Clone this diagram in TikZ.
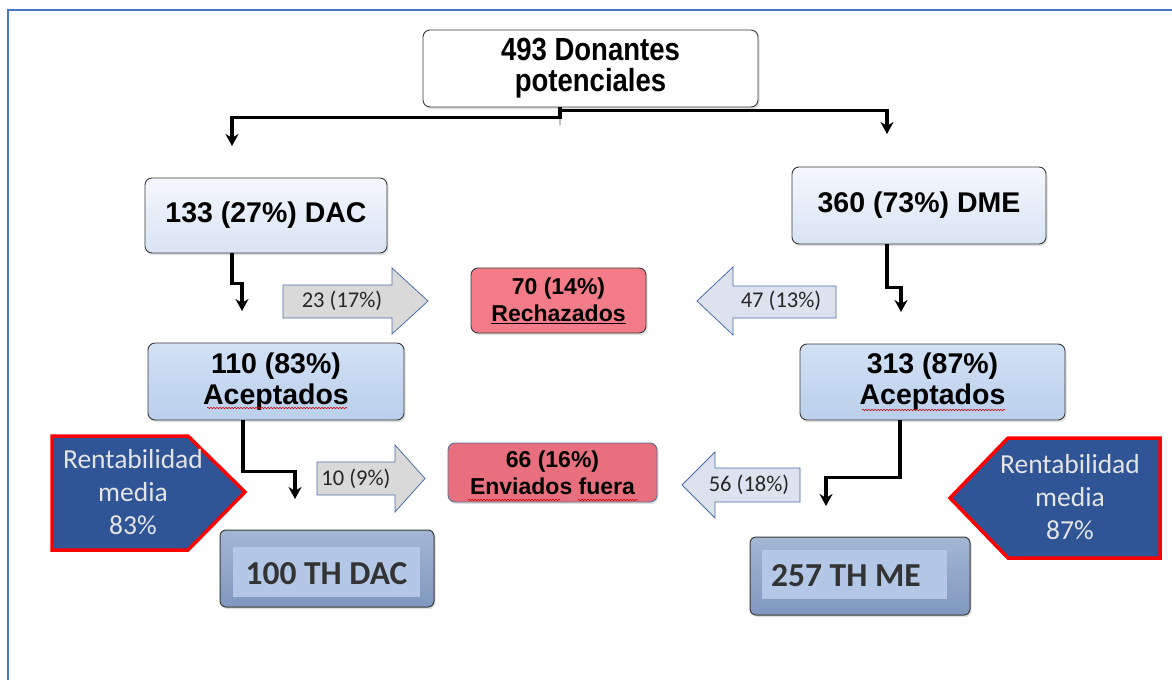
\documentclass[tikz,border=0pt]{standalone}
\usepackage{fontspec}
\setmainfont{Liberation Sans}
\newfontfamily\narrowfont[FakeStretch=0.86]{Liberation Sans}
\newfontfamily\calfont{Carlito}
\usetikzlibrary{arrows.meta,shadows,decorations.pathmorphing}

\definecolor{frameblue}{HTML}{4A78C8}
\definecolor{boxedge}{HTML}{3A3A3A}
\definecolor{paleTop}{HTML}{F5F8FD}
\definecolor{paleBot}{HTML}{D8E3F4}
\definecolor{accTop}{HTML}{D2E1F5}
\definecolor{accBot}{HTML}{BACFEB}
\definecolor{rechfill}{HTML}{F47C89}
\definecolor{envfill}{HTML}{E8707E}
\definecolor{envedge}{HTML}{5A6F94}
\definecolor{arrgray}{HTML}{D9D9D9}
\definecolor{arrblue}{HTML}{DCE3EE}
\definecolor{arredge}{HTML}{4A6EA8}
\definecolor{pentfill}{HTML}{2F5597}
\definecolor{penttext}{HTML}{E4E4E4}
\definecolor{thTop}{HTML}{A3B6D4}
\definecolor{thBot}{HTML}{8098BE}
\definecolor{thinner}{HTML}{B4C7E7}
\definecolor{thtextcol}{HTML}{333333}

\begin{document}
\begin{tikzpicture}[x=1pt,y=-1pt,
  box/.style={draw=boxedge, line width=0.9pt, rounded corners=7pt, inner sep=0pt,
    align=center,
    drop shadow={shadow xshift=1.5pt, shadow yshift=-2pt, opacity=0.25}},
  palebox/.style={box, top color=paleTop, bottom color=paleBot},
  accbox/.style={box, top color=accTop, bottom color=accBot},
  bigtxt/.style={font=\bfseries\fontsize{28.5}{31}\selectfont},
  midtxt/.style={font=\bfseries\fontsize{23}{27}\selectfont},
  conn/.style={draw=black, line width=3.4pt, line join=miter,
    -{Stealth[length=12pt,width=13pt]}},
  ghost/.style={draw=black, line width=2pt, opacity=0.25},
  blockarrow/.style={draw=arredge, line width=0.8pt, line join=miter},
  arrtext/.style={font=\calfont\fontsize{22.5}{24}\selectfont, text=black!85, inner sep=0pt},
  pent/.style={fill=pentfill, draw=red, line width=3.5pt, line join=miter},
  pentlabel/.style={font=\calfont\fontsize{27.5}{33}\selectfont, text=penttext,
    align=center, inner sep=0pt},
  thbox/.style={draw=boxedge, line width=1pt, rounded corners=6pt, inner sep=0pt,
    top color=thTop, bottom color=thBot,
    drop shadow={shadow xshift=1.5pt, shadow yshift=-2pt, opacity=0.25}},
  thpanel/.style={fill=thinner, draw=none, inner sep=0pt},
  thtext/.style={font=\calfont\bfseries\fontsize{33.5}{36}\selectfont, text=thtextcol,
    inner sep=0pt},
  squig/.style={draw=red!85!black, line width=0.6pt,
    decorate, decoration={snake, segment length=3pt, amplitude=0.7pt}}
]
\useasboundingbox (0,0) rectangle (1172,680);

% page frame
\draw[frameblue, line width=2pt] (8,680) -- (8,10) -- (1172,10);

% top of the tree
\node[box, fill=white, minimum width=335pt, minimum height=77pt,
  font=\narrowfont\bfseries\fontsize{32}{31}\selectfont] (top) at (590.5,68.5)
  {493 Donantes\\potenciales};

% donor groups
\node[palebox, bigtxt, minimum width=242pt, minimum height=75pt] (dac) at (266,215.5)
  {133 (27\%) DAC};
\node[palebox, bigtxt, minimum width=254pt, minimum height=77pt] (dme) at (919,205.5)
  {360 (73\%) DME};

% accepted
\node[accbox, bigtxt, minimum width=256pt, minimum height=77pt] (accL) at (276,381.5)
  {110 (83\%)\\Aceptados};
\node[accbox, bigtxt, minimum width=265pt, minimum height=76pt] (accR) at (932.5,382)
  {313 (87\%)\\Aceptados};

% rejected and sent elsewhere
\node[box, fill=rechfill, midtxt, minimum width=175pt, minimum height=65pt] (rech)
  at (558.5,300.5) {70 (14\%)\\\underline{Rechazados}};
\node[box, draw=envedge, fill=envfill, midtxt, minimum width=209pt, minimum height=59pt]
  (env) at (552.5,472.5) {66 (16\%)\\Enviados fuera};

% spelling marks under words
\draw[squig] (207,408) -- (347,408);
\draw[squig] (862,410) -- (1005,410);
\draw[squig] (468,500) -- (560,500);
\draw[squig] (578,500) -- (638,500);
\draw[squig] (1007,474) -- (1150,474);

% block arrows with counts
\draw[blockarrow, fill=arrgray] (283,285) -- (392,285) -- (392,268) -- (428,301)
  -- (392,334) -- (392,318) -- (283,318) -- cycle;
\node[arrtext] (l23) at (342,301) {23 (17\%)};
\draw[blockarrow, fill=arrblue] (836,286) -- (733,286) -- (733,267) -- (697,301)
  -- (733,335) -- (733,318) -- (836,318) -- cycle;
\node[arrtext] (l47) at (781,301) {47 (13\%)};
\draw[blockarrow, fill=arrgray] (317,462) -- (395,462) -- (395,445) -- (425,478.5)
  -- (395,512) -- (395,495) -- (317,495) -- cycle;
\node[arrtext] (l10) at (356,478.5) {10 (9\%)};
\draw[blockarrow, fill=arrblue] (800,468) -- (715,468) -- (715,452) -- (682,485)
  -- (715,518) -- (715,502) -- (800,502) -- cycle;
\node[arrtext] (l56) at (749,485) {56 (18\%)};

% average yield tags
\draw[pent] (52,436) -- (188,436) -- (245,492) -- (188,550) -- (52,550) -- cycle;
\node[pentlabel] (rentL) at (133,492) {Rentabilidad\\media\\83\%};
\draw[pent] (1160,438) -- (1008,438) -- (950,498) -- (1008,558) -- (1160,558) -- cycle;
\node[pentlabel] (rentR) at (1070,497) {Rentabilidad\\media\\87\%};

% transplant totals
\node[thbox, minimum width=214pt, minimum height=77pt] (thL) at (327,568.5) {};
\node[thpanel, minimum width=187pt, minimum height=50pt] (thLin) at (326.5,572) {};
\node[thtext] (thLtxt) at (326.5,574) {100 TH DAC};
\node[thbox, minimum width=220pt, minimum height=78pt] (thR) at (860,576) {};
\node[thpanel, minimum width=185pt, minimum height=49pt] (thRin) at (854.5,574.5) {};
\node[thtext, anchor=west] (thRtxt) at (771,576) {257 TH ME};

% connector tails showing faintly through the boxes
\draw[ghost] ([xshift=-30.5pt,yshift=-18pt]top.south) -- ([xshift=-30.5pt]top.south);
\draw[ghost] ([xshift=-34pt,yshift=-24pt]dac.south) -- ([xshift=-34pt]dac.south);
\draw[ghost] ([xshift=-32pt,yshift=-22pt]dme.south) -- ([xshift=-32pt]dme.south);
\draw[ghost] ([xshift=-33pt,yshift=-22pt]accL.south) -- ([xshift=-33pt]accL.south);
\draw[ghost] ([xshift=-32.5pt,yshift=-22pt]accR.south) -- ([xshift=-32.5pt]accR.south);

% flow connectors
\coordinate (dacIn) at (232,146);
\coordinate (dmeIn) at (887,134);
\coordinate (accLIn) at (242,311);
\coordinate (accRIn) at (901,312);
\coordinate (thLIn) at (295,499);
\coordinate (thRIn) at (826,506);

\draw[conn] ([xshift=-30.5pt]top.south) -- ++(0,10) -| (dacIn);
\draw[conn] ([xshift=-30.5pt]top.south) -- ++(0,3) -| (dmeIn);
\draw[conn] ([xshift=-34pt]dac.south) -- ++(0,30) -| (accLIn);
\draw[conn] ([xshift=-32pt]dme.south) -- ++(0,43) -| (accRIn);
\draw[conn] ([xshift=-33pt]accL.south) -- ++(0,51) -| (thLIn);
\draw[conn] ([xshift=-32.5pt]accR.south) -- ++(0,57) -| (thRIn);
\end{tikzpicture}
\end{document}
